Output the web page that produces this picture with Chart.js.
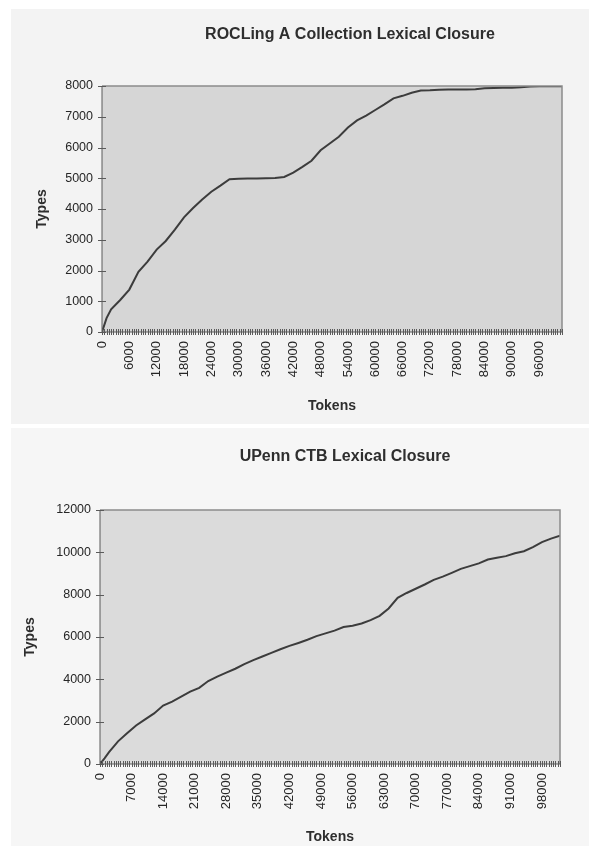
<!DOCTYPE html>
<html>
<head>
<meta charset="utf-8">
<script src="https://cdn.jsdelivr.net/npm/chart.js@4.4.1/dist/chart.umd.min.js"></script>
<style>
    html, body { margin: 0; padding: 0; background: #ffffff; }
    body { width: 589px; height: 846px; position: relative; overflow: hidden; }
    .panel { position: absolute; left: 11px; width: 578px; }
    #panel-a { top: 9px; height: 415px; background: #f3f3f3; }
    #panel-b { top: 428px; height: 418px; background: #f6f6f6; }
</style>
</head>
<body>
<div class="panel" id="panel-a"><canvas id="rocling-chart" width="578" height="415"></canvas></div>
<div class="panel" id="panel-b"><canvas id="upenn-chart" width="578" height="418"></canvas></div>
<script>
const roclingTokens = [0, 1000, 2000, 4000, 6000, 8000, 10000, 12000, 14000, 16000, 18000, 20000,
    22000, 24000, 26000, 28000, 30000, 32000, 34000, 36000, 38000, 40000, 42000, 44000, 46000,
    48000, 50000, 52000, 54000, 56000, 58000, 60000, 62000, 64000, 66000, 68000, 70000, 72000,
    74000, 76000, 78000, 80000, 82000, 84000, 86000, 88000, 90000, 92000, 94000, 96000, 98000,
    100000, 101000];
const roclingTypes = [0, 450, 740, 1040, 1380, 1960, 2290, 2680, 2960, 3330, 3730, 4030,
    4310, 4560, 4760, 4970, 4980, 4990, 4990, 5000, 5010, 5040, 5180, 5370, 5570,
    5910, 6130, 6350, 6650, 6880, 7040, 7220, 7400, 7600, 7680, 7780, 7850, 7860,
    7880, 7890, 7890, 7890, 7895, 7930, 7935, 7940, 7940, 7960, 7985, 7990, 7990,
    7990, 7990];

const upennTokens = [0, 1000, 2000, 4000, 6000, 8000, 10000, 12000, 14000, 16000, 18000, 20000,
    22000, 24000, 26000, 28000, 30000, 32000, 34000, 36000, 38000, 40000, 42000, 44000, 46000,
    48000, 50000, 52000, 54000, 56000, 58000, 60000, 62000, 64000, 66000, 68000, 70000, 72000,
    74000, 76000, 78000, 80000, 82000, 84000, 86000, 88000, 90000, 92000, 94000, 96000, 98000,
    100000, 102000];
const upennTypes = [0, 270, 560, 1070, 1450, 1820, 2110, 2390, 2760, 2950, 3180, 3420,
    3600, 3920, 4130, 4320, 4500, 4720, 4910, 5080, 5250, 5420, 5580, 5720, 5870,
    6040, 6170, 6300, 6470, 6530, 6640, 6800, 7000, 7350, 7850, 8080, 8280, 8480,
    8700, 8850, 9030, 9220, 9350, 9480, 9660, 9740, 9820, 9960, 10050, 10250, 10480,
    10650, 10780];

// plot fill, frame, Excel-style crossing tick marks and the centred title
const plotFrame = {
    id: 'plotFrame',
    beforeDatasetsDraw(chart, args, opts) {
        const a = chart.chartArea;
        const ctx = chart.ctx;
        ctx.save();
        ctx.fillStyle = opts.fill;
        ctx.fillRect(a.left, a.top, a.right - a.left, a.bottom - a.top);
        ctx.restore();
    },
    afterDatasetsDraw(chart, args, opts) {
        const a = chart.chartArea;
        const ctx = chart.ctx;
        ctx.save();
        ctx.strokeStyle = '#8c8c8c';
        ctx.lineWidth = 1.5;
        ctx.beginPath();
        ctx.moveTo(a.left, a.top);
        ctx.lineTo(a.right, a.top);
        ctx.lineTo(a.right, a.bottom);
        ctx.stroke();

        ctx.strokeStyle = '#5a5a5a';
        ctx.lineWidth = 1;
        ctx.beginPath();
        ctx.moveTo(a.left, a.top);
        ctx.lineTo(a.left, a.bottom);
        ctx.lineTo(a.right, a.bottom);
        chart.scales.x.ticks.forEach(t => {
            const px = Math.round(chart.scales.x.getPixelForValue(t.value)) + 0.5;
            ctx.moveTo(px, a.bottom - 3);
            ctx.lineTo(px, a.bottom + 3);
        });
        chart.scales.y.ticks.forEach(t => {
            const py = Math.round(chart.scales.y.getPixelForValue(t.value)) + 0.5;
            ctx.moveTo(a.left - 4, py);
            ctx.lineTo(a.left + 4, py);
        });
        ctx.stroke();

        ctx.fillStyle = '#2e2e2e';
        ctx.font = 'bold 16px "Liberation Sans", Arial, sans-serif';
        ctx.textAlign = 'center';
        ctx.textBaseline = 'middle';
        ctx.fillText(opts.title, opts.titleX, opts.titleY);
        ctx.restore();
    }
};

function closureConfig(tokens, types, o) {
    return {
        type: 'line',
        data: {
            datasets: [{
                label: 'Types',
                data: tokens.map((t, i) => ({x: t, y: types[i]})),
                borderColor: '#3c3c3c',
                borderWidth: 2,
                pointRadius: 0,
                tension: 0,
                fill: false
            }]
        },
        options: {
            responsive: false,
            animation: false,
            layout: {padding: {top: o.top, right: o.right, left: 0, bottom: 0}},
            plugins: {
                legend: {display: false},
                tooltip: {enabled: false},
                plotFrame: {fill: o.fill, title: o.title, titleX: o.titleX, titleY: o.titleY}
            },
            scales: {
                x: {
                    type: 'linear',
                    min: 0,
                    max: o.xMax,
                    grid: {display: false, drawTicks: false},
                    border: {display: false},
                    afterBuildTicks: axis => {
                        const list = [];
                        for (let v = 0; v <= o.xMax; v += 500) list.push({value: v});
                        axis.ticks = list;
                    },
                    afterFit: axis => { axis.height = o.xHeight; },
                    ticks: {
                        autoSkip: false,
                        minRotation: 90,
                        maxRotation: 90,
                        padding: 9,
                        color: '#262626',
                        font: {family: '"Liberation Sans", Arial, sans-serif', size: 13},
                        callback: v => (v % o.labelEvery === 0 ? String(v) : '')
                    },
                    title: {
                        display: true,
                        text: 'Tokens',
                        color: '#2e2e2e',
                        font: {family: '"Liberation Sans", Arial, sans-serif', size: 14, weight: 'bold'},
                        padding: {top: 0, bottom: o.xTitlePad}
                    }
                },
                y: {
                    min: 0,
                    max: o.yMax,
                    grid: {display: false, drawTicks: false},
                    border: {display: false},
                    afterFit: axis => { axis.width = o.yWidth; },
                    ticks: {
                        stepSize: o.yStep,
                        padding: 9,
                        color: '#262626',
                        font: {family: '"Liberation Sans", Arial, sans-serif', size: 12.5},
                        callback: v => String(v)
                    },
                    title: {
                        display: true,
                        text: 'Types',
                        color: '#2e2e2e',
                        font: {family: '"Liberation Sans", Arial, sans-serif', size: 14, weight: 'bold'},
                        padding: {top: o.yTitlePad, bottom: 0}
                    }
                }
            }
        },
        plugins: [plotFrame]
    };
}

const roclingChart = new Chart(
    document.getElementById('rocling-chart'),
    closureConfig(roclingTokens, roclingTypes, {
        title: 'ROCLing A Collection Lexical Closure', titleX: 339, titleY: 26,
        top: 77, right: 27, xHeight: 92, yWidth: 91,
        xMax: 101000, labelEvery: 6000, yMax: 8000, yStep: 1000,
        xTitlePad: 9, yTitlePad: 23, fill: '#d6d6d6'
    })
);

const upennChart = new Chart(
    document.getElementById('upenn-chart'),
    closureConfig(upennTokens, upennTypes, {
        title: 'UPenn CTB Lexical Closure', titleX: 334, titleY: 29,
        top: 82, right: 29, xHeight: 82, yWidth: 89,
        xMax: 102000, labelEvery: 7000, yMax: 12000, yStep: 2000,
        xTitlePad: 0, yTitlePad: 11, fill: '#dbdbdb'
    })
);
</script>
</body>
</html>
